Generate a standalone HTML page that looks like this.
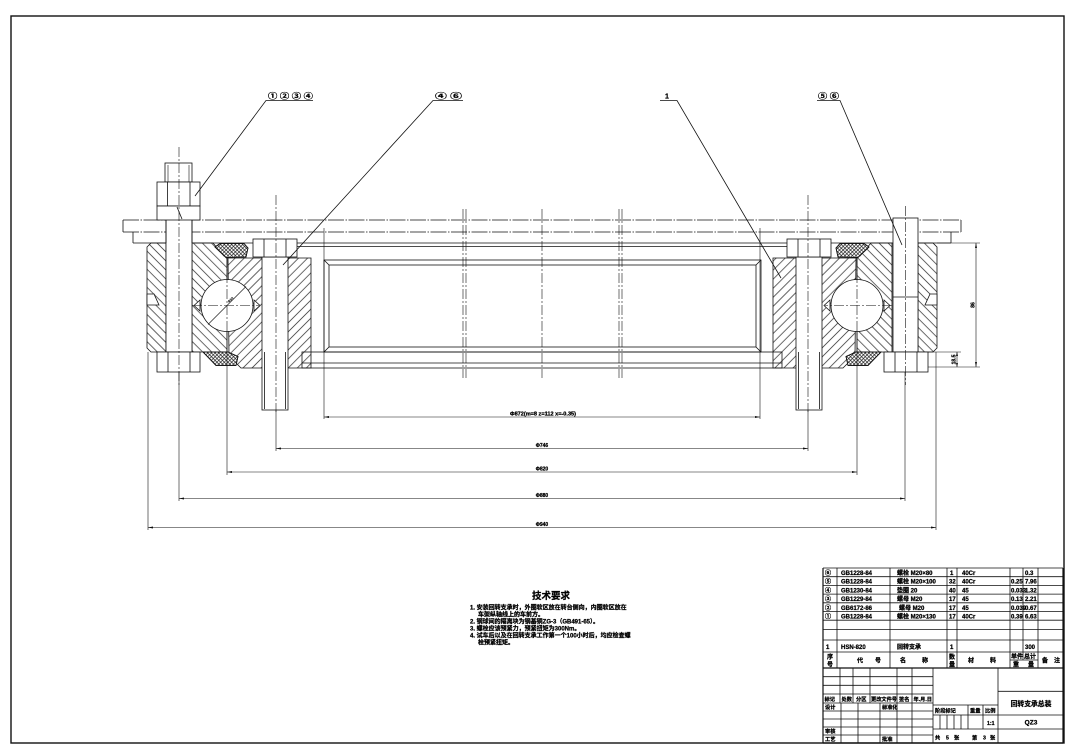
<!DOCTYPE html>
<html><head><meta charset="utf-8">
<style>
html,body{margin:0;padding:0;background:#fff;width:1082px;height:750px;overflow:hidden}
svg{display:block}
text{font-family:"Liberation Sans","Noto Sans CJK SC",sans-serif;font-weight:bold;fill:#000;stroke:none}
.bt text{stroke:#000;stroke-width:0.25}
.cl{stroke-dasharray:10 2 2 2;stroke-width:0.6}
.th{stroke-width:0.6}
</style></head><body>
<svg width="1082" height="750" viewBox="0 0 1082 750" xmlns="http://www.w3.org/2000/svg">
<defs>
<pattern id="hb" width="6.4" height="6.4" patternUnits="userSpaceOnUse" patternTransform="rotate(-45)"><line x1="3.2" y1="-1" x2="3.2" y2="7.4" stroke="#222" stroke-width="0.7"/></pattern>
<pattern id="hf" width="6.4" height="6.4" patternUnits="userSpaceOnUse" patternTransform="rotate(45)"><line x1="3.2" y1="-1" x2="3.2" y2="7.4" stroke="#222" stroke-width="0.7"/></pattern>
<pattern id="ch" width="2.6" height="2.6" patternUnits="userSpaceOnUse" patternTransform="rotate(45)"><path d="M1.3,-0.5V3.1M-0.5,1.3H3.1" stroke="#111" stroke-width="0.6"/></pattern>
</defs>
<rect width="1082" height="750" fill="#fff"/>
<g fill="none" stroke="#111" stroke-width="0.8">
<!-- frame -->
<rect x="11" y="16" width="1053" height="727" stroke-width="1.4"/>

<!-- plate -->
<path d="M123,220H961M123,232H961" stroke-dasharray="16 1.5 1.5 1.5"/>
<path d="M133,243H951M123,220V232M961,220V232M133,232V243M951,232V243"/>
<line x1="297" y1="246.5" x2="787" y2="246.5"/>

<!-- central centerlines -->
<line class="cl" x1="463" y1="209" x2="463" y2="378"/>
<line class="cl" x1="466" y1="209" x2="466" y2="378"/>
<line class="cl" x1="542" y1="209" x2="542" y2="378"/>
<line class="cl" x1="619" y1="209" x2="619" y2="378"/>
<line class="cl" x1="622" y1="209" x2="622" y2="378"/>

<!-- LEFT HALF -->
<g>
<polygon points="151,243 166,243 166,352 151,352 147,348 147,247" fill="url(#hb)"/>
<polygon points="147,294 154,294 159,305 147,305" fill="#fff"/>
<polygon points="192,243 213,243 224,256 227,256 227,352 192,352" fill="url(#hb)"/>
<polygon points="228,258 311,258 311,368 241,368 229,356" fill="url(#hf)"/>
<circle cx="227" cy="305.5" r="26" fill="#fff"/>
<polygon points="200,300 194,305.5 200,311" fill="#fff"/>
<polygon points="254,300 260,305.5 254,311" fill="#fff"/>
<line x1="208" y1="324.5" x2="246" y2="286.5" class="th"/>
<polygon points="215,247 220,243.5 244,243.5 248,248 246,257 226,257.5" fill="#fff"/>
<polygon points="215,247 220,243.5 244,243.5 248,248 246,257 226,257.5" fill="url(#ch)"/>
<polygon points="203,352 228,352 238,356.5 236,365.5 216,365.5" fill="#fff"/>
<polygon points="203,352 228,352 238,356.5 236,365.5 216,365.5" fill="url(#ch)"/>
<rect x="262" y="257" width="26" height="153" fill="#fff"/>
<line x1="264.5" y1="352" x2="264.5" y2="409"/>
<line x1="285.5" y1="352" x2="285.5" y2="409"/>
<rect x="253" y="239" width="44" height="18" fill="#fff"/>
<line x1="264" y1="239" x2="264" y2="257"/>
<line x1="286" y1="239" x2="286" y2="257"/>
<line class="cl" x1="276" y1="195" x2="276" y2="412"/>
<line class="th" x1="276" y1="410" x2="276" y2="451"/>
<line class="cl" x1="227" y1="257" x2="227" y2="335"/>
<line class="th" x1="227" y1="331" x2="227" y2="475"/>
<line class="cl" x1="192" y1="305.5" x2="259" y2="305.5"/>
<line class="th" x1="148" y1="352" x2="148" y2="530"/>
<line class="th" x1="324" y1="228" x2="324" y2="419"/>
<line class="th" x1="179" y1="372" x2="179" y2="501"/>
</g>

<!-- RIGHT HALF (mirror) -->
<g transform="matrix(-1 0 0 1 1084 0)">
<polygon points="151,243 166,243 166,352 151,352 147,348 147,247" fill="url(#hf)"/>
<polygon points="147,294 154,294 159,305 147,305" fill="#fff"/>
<polygon points="192,243 213,243 224,256 227,256 227,352 192,352" fill="url(#hf)"/>
<polygon points="228,258 311,258 311,368 241,368 229,356" fill="url(#hb)"/>
<circle cx="227" cy="305.5" r="26" fill="#fff"/>
<polygon points="200,300 194,305.5 200,311" fill="#fff"/>
<polygon points="254,300 260,305.5 254,311" fill="#fff"/>
<polygon points="215,247 220,243.5 244,243.5 248,248 246,257 226,257.5" fill="#fff"/>
<polygon points="215,247 220,243.5 244,243.5 248,248 246,257 226,257.5" fill="url(#ch)"/>
<polygon points="203,352 228,352 238,356.5 236,365.5 216,365.5" fill="#fff"/>
<polygon points="203,352 228,352 238,356.5 236,365.5 216,365.5" fill="url(#ch)"/>
<rect x="262" y="257" width="26" height="153" fill="#fff"/>
<line x1="264.5" y1="352" x2="264.5" y2="409"/>
<line x1="285.5" y1="352" x2="285.5" y2="409"/>
<rect x="253" y="239" width="44" height="18" fill="#fff"/>
<line x1="264" y1="239" x2="264" y2="257"/>
<line x1="286" y1="239" x2="286" y2="257"/>
<line class="cl" x1="276" y1="195" x2="276" y2="412"/>
<line class="th" x1="276" y1="410" x2="276" y2="451"/>
<line class="cl" x1="227" y1="257" x2="227" y2="335"/>
<line class="th" x1="227" y1="331" x2="227" y2="475"/>
<line class="cl" x1="192" y1="305.5" x2="259" y2="305.5"/>
<line class="th" x1="148" y1="352" x2="148" y2="530"/>
<line class="th" x1="324" y1="228" x2="324" y2="419"/>
<line class="th" x1="179" y1="372" x2="179" y2="501"/>
</g>

<!-- inner frame -->
<rect x="324" y="260" width="437" height="92"/>
<rect x="329" y="265" width="427" height="82"/>
<path d="M324,260L329,265M761,260L756,265M324,352L329,347M761,352L756,347"/>
<rect x="302" y="352" width="480" height="16"/>
<line x1="302" y1="363" x2="782" y2="363"/>

<!-- left outer bolt with nut -->
<rect x="166" y="182" width="26" height="170" fill="#fff"/>
<rect x="165" y="163" width="27" height="19" fill="#fff"/>
<line x1="168" y1="165" x2="168" y2="182" class="th"/>
<line x1="189" y1="165" x2="189" y2="182" class="th"/>
<rect x="157" y="182" width="43" height="24" fill="#fff"/>
<line x1="167.5" y1="182" x2="167.5" y2="206"/>
<line x1="190" y1="182" x2="190" y2="206"/>
<rect x="157" y="206" width="43" height="14" fill="#fff"/>
<line x1="177" y1="207" x2="182" y2="219"/>
<line x1="166" y1="220" x2="166" y2="243"/>
<line x1="192" y1="220" x2="192" y2="243"/>
<rect x="157" y="352" width="43" height="20" fill="#fff"/>
<line x1="168" y1="352" x2="168" y2="372"/>
<line x1="190" y1="352" x2="190" y2="372"/>
<line class="cl" x1="179" y1="147" x2="179" y2="385"/>

<!-- right outer bolt with head -->
<rect x="893" y="218" width="25" height="134" fill="#fff"/>
<line x1="893" y1="297" x2="918" y2="297"/>
<rect x="884" y="352" width="44" height="20" fill="#fff"/>
<line x1="895" y1="352" x2="895" y2="372"/>
<line x1="917" y1="352" x2="917" y2="372"/>
<line class="cl" x1="905.5" y1="206" x2="905.5" y2="385"/>

<!-- dimension lines -->
<g class="th">
<line x1="324" y1="417" x2="760" y2="417"/>
<line x1="276" y1="448.5" x2="808" y2="448.5"/>
<line x1="227" y1="472" x2="857" y2="472"/>
<line x1="179" y1="498.5" x2="905" y2="498.5"/>
<line x1="148" y1="527.5" x2="936" y2="527.5"/>
<line x1="937" y1="243" x2="980" y2="243"/>
<line x1="928" y1="367" x2="980" y2="367"/>
<line x1="976" y1="243" x2="976" y2="367"/>
<line x1="928" y1="352" x2="961" y2="352"/>
<line x1="957" y1="352" x2="957" y2="367"/>
</g>
<g fill="#111" stroke="none">
<polygon points="324,417 329,416 329,418"/><polygon points="760,417 755,416 755,418"/>
<polygon points="276,448.5 281,447.5 281,449.5"/><polygon points="808,448.5 803,447.5 803,449.5"/>
<polygon points="227,472 232,471 232,473"/><polygon points="857,472 852,471 852,473"/>
<polygon points="179,498.5 184,497.5 184,499.5"/><polygon points="905,498.5 900,497.5 900,499.5"/>
<polygon points="148,527.5 153,526.5 153,528.5"/><polygon points="936,527.5 931,526.5 931,528.5"/>
<polygon points="976,243 975,248 977,248"/><polygon points="976,367 975,362 977,362"/>
<polygon points="957,352 956,356 958,356"/><polygon points="957,367 956,363 958,363"/>
</g>

<!-- leaders -->
<polyline points="313,100.5 266,100.5 195,196"/>
<polyline points="463,100.5 433,100.5 283,265"/>
<polyline points="660,100.5 677,100.5 781,278"/>
<polyline points="817,100.5 840,100.5 902,245"/>

<!-- parts list -->
<path d="M823,568H1063M823,576.7H1063M823,585.4H1063M823,594.1H1063M823,602.8H1063M823,611.5H1063M823,620.2H1063M823,629.5H1063M823,640H1063M823,652H1063M1010,660H1038"/>
<path d="M837,568V668M890,568V668M947,568V668M957,568V668M1010,568V668M1023,568V660M1038,568V668"/>
<path d="M823,568V743M1063,568V743M823,668H1063M823,743H1063" stroke-width="1.2"/>
<!-- title block -->
<path d="M933,668V743M998,668V743"/>
<path d="M823,676.7H933M823,685.3H933M823,694H933M823,703H933M823,711H933M823,719H933M823,727H933M823,735H933"/>
<path d="M840,668V703M853,668V703M870,668V703M897,668V703M912,668V703"/>
<path d="M841,703V743M858,703V743M880,703V743M897,703V743M912,703V743"/>
<path d="M933,705H998M933,715H998M933,729H998M968,705V729M983,705V729M940,715V729M947,715V729M954,715V729M961,715V729"/>
<path d="M998,691.3H1063M998,715H1063M998,729H1063"/>
</g>

<!-- leader texts -->
<g class="bt">
<text x="268" y="98.5" font-size="7.5" textLength="45" lengthAdjust="spacingAndGlyphs">① ② ③ ④</text>
<text x="435" y="98.5" font-size="7.5" textLength="27" lengthAdjust="spacingAndGlyphs">④ ⑥</text>
<text x="665" y="98.5" font-size="7">1</text>
<text x="818" y="98.5" font-size="7.5" textLength="21" lengthAdjust="spacingAndGlyphs">⑤ ⑥</text>
</g>
<text x="229" y="303" font-size="3.5" transform="rotate(-45 229 303)">Φ50</text>

<!-- dimension texts -->
<g font-size="5" class="bt">
<text x="543" y="415.3" text-anchor="middle" textLength="66" lengthAdjust="spacingAndGlyphs">Φ872(m=8 z=112 x=-0.35)</text>
<text x="542" y="446.8" text-anchor="middle">Φ746</text>
<text x="542" y="470.3" text-anchor="middle">Φ820</text>
<text x="542" y="496.8" text-anchor="middle">Φ880</text>
<text x="542" y="525.8" text-anchor="middle">Φ940</text>
<text x="974.5" y="305" text-anchor="middle" transform="rotate(-90 974.5 305)">86</text>
<text x="955.5" y="359.5" text-anchor="middle" transform="rotate(-90 955.5 359.5)">18.5</text>
</g>

<!-- technical requirements -->
<g class="bt">
<text x="551" y="599" font-size="9.5" text-anchor="middle">技术要求</text>
<g font-size="6">
<text x="470" y="609.5">1. 安装回转支承时，外圈软区放在转台侧向，内圈软区放在</text>
<text x="478" y="616.5">车架纵轴线上的车前方。</text>
<text x="470" y="623.5">2. 钢球间的隔离块为钢基铜ZG-3（GB491-65）。</text>
<text x="470" y="630.5">3. 螺栓应该预紧力，预紧扭矩为300Nm。</text>
<text x="470" y="637.5">4. 试车后以及在回转支承工作第一个100小时后，均应检查螺</text>
<text x="478" y="644.5">栓预紧扭矩。</text>
</g>
</g>

<!-- parts list texts -->
<g font-size="6" class="bt">
<text x="825" y="575">⑥</text><text x="841" y="575">GB1228-84</text><text x="897" y="575">螺栓 M20×80</text><text x="950" y="575">1</text><text x="962" y="575">40Cr</text><text x="1025" y="575">0.3</text>
<text x="825" y="583.7">⑤</text><text x="841" y="583.7">GB1228-84</text><text x="897" y="583.7">螺栓 M20×100</text><text x="949" y="583.7">32</text><text x="962" y="583.7">40Cr</text><text x="1011" y="583.7">0.25</text><text x="1025" y="583.7">7.96</text>
<text x="825" y="592.4">④</text><text x="841" y="592.4">GB1230-84</text><text x="897" y="592.4">垫圈 20</text><text x="949" y="592.4">40</text><text x="962" y="592.4">45</text><text x="1011" y="592.4">0.033</text><text x="1025" y="592.4">1.32</text>
<text x="825" y="601.1">③</text><text x="841" y="601.1">GB1229-84</text><text x="897" y="601.1">螺母 M20</text><text x="949" y="601.1">17</text><text x="962" y="601.1">45</text><text x="1011" y="601.1">0.13</text><text x="1025" y="601.1">2.21</text>
<text x="825" y="609.8">②</text><text x="841" y="609.8">GB6172-86</text><text x="899" y="609.8">螺母 M20</text><text x="949" y="609.8">17</text><text x="962" y="609.8">45</text><text x="1011" y="609.8">0.039</text><text x="1025" y="609.8">0.67</text>
<text x="825" y="618.5">①</text><text x="841" y="618.5">GB1228-84</text><text x="897" y="618.5">螺栓 M20×130</text><text x="949" y="618.5">17</text><text x="962" y="618.5">40Cr</text><text x="1011" y="618.5">0.39</text><text x="1025" y="618.5">6.63</text>
<text x="826" y="649">1</text><text x="841" y="649">HSN-820</text><text x="897" y="649">回转支承</text><text x="950" y="649">1</text><text x="1025" y="649">300</text>
<text x="827" y="659">序</text><text x="827" y="666.5">号</text>
<text x="857" y="662.5">代</text><text x="875" y="662.5">号</text>
<text x="900" y="662.5">名</text><text x="922" y="662.5">称</text>
<text x="949" y="659">数</text><text x="949" y="666.5">量</text>
<text x="968" y="662.5">材</text><text x="990" y="662.5">料</text>
<text x="1011" y="658.5">单件</text><text x="1024" y="658.5">总计</text>
<text x="1013" y="666.5">重</text><text x="1028" y="666.5">量</text>
<text x="1042" y="662.5">备</text><text x="1054" y="662.5">注</text>
</g>

<!-- title block texts -->
<g font-size="5.2" class="bt">
<text x="824.5" y="700.8">标记</text><text x="841.5" y="700.8">处数</text><text x="856" y="700.8">分区</text><text x="871" y="700.8">更改文件号</text><text x="899" y="700.8">签名</text><text x="913.5" y="700.8">年.月.日</text>
<text x="825" y="709">设计</text><text x="882" y="709">标准化</text>
<text x="825" y="733">审核</text>
<text x="825" y="741">工艺</text><text x="882" y="741">批准</text>
<text x="935" y="712.5">阶段标记</text><text x="970" y="712.5">重量</text><text x="985" y="712.5">比例</text>
<text x="987" y="725">1:1</text>
<text x="935" y="739.5">共</text><text x="946" y="739.5">5</text><text x="954" y="739.5">张</text>
<text x="972" y="739.5">第</text><text x="983" y="739.5">3</text><text x="990" y="739.5">张</text>
</g>
<g class="bt">
<text x="1031" y="706" font-size="6.8" text-anchor="middle">回转支承总装</text>
<text x="1031" y="724.5" font-size="6.5" text-anchor="middle">QZ3</text>
</g>
</svg>
</body></html>
